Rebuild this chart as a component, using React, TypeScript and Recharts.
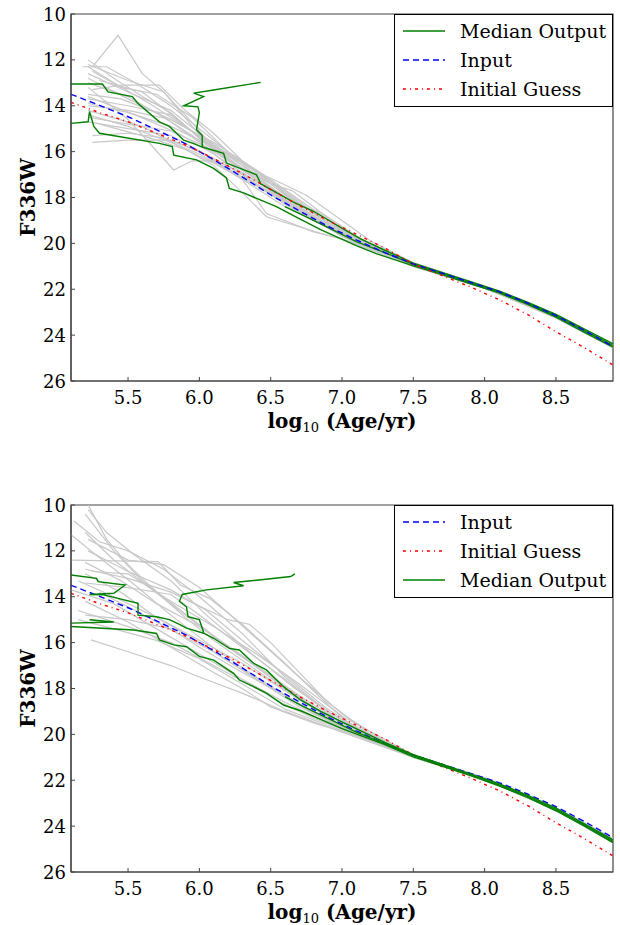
import React from 'react';
import { LineChart, Line, XAxis, YAxis, Legend, ReferenceArea } from 'recharts';

// axis ticks
const X_TICKS = [5.5, 6.0, 6.5, 7.0, 7.5, 8.0, 8.5];
const Y_TICKS = [10, 12, 14, 16, 18, 20, 22, 24, 26];

// shared curves (x = log10 age, y = F336W)
const inputCurve = [
  [5.1, 13.5], [5.3, 13.98], [5.5, 14.48], [5.7, 15.05], [5.9, 15.65], [6.1, 16.35], [6.3, 17.1],
  [6.5, 17.89], [6.7, 18.58], [6.9, 19.25], [7.1, 19.85], [7.3, 20.4], [7.5, 20.9], [7.7, 21.3],
  [7.9, 21.7], [8.1, 22.1], [8.3, 22.6], [8.5, 23.15], [8.7, 23.8], [8.9, 24.5],
];
const guessCurve = [
  [5.1, 13.85], [5.3, 14.3], [5.5, 14.7], [5.7, 15.2], [5.9, 15.7], [6.1, 16.3], [6.3, 16.95],
  [6.5, 17.65], [6.7, 18.35], [6.9, 19.0], [7.1, 19.6], [7.3, 20.2], [7.5, 20.9], [7.7, 21.4],
  [7.9, 21.9], [8.1, 22.45], [8.3, 23.1], [8.5, 23.85], [8.7, 24.55], [8.9, 25.3],
];

// top panel: individual runs
const topGrey = [
  [[5.25, 12.3], [5.43, 10.93], [5.6, 12.6], [5.75, 13.4], [5.95, 14.9], [6.1, 15.9], [6.3, 16.8], [6.5, 17.6], [6.8, 18.8], [7.0, 19.5], [7.5, 20.9], [8.0, 21.9], [8.5, 23.1], [8.9, 24.4]],
  [[5.22, 12.0], [5.4, 12.8], [5.6, 13.6], [5.8, 14.3], [6.0, 15.4], [6.2, 16.3], [6.5, 17.7], [6.8, 18.9], [7.0, 19.5], [7.5, 20.9], [8.0, 21.9], [8.5, 23.2], [8.9, 24.5]],
  [[5.22, 12.2], [5.5, 12.9], [5.75, 13.4], [5.9, 14.4], [6.1, 15.8], [6.4, 17.2], [6.7, 18.6], [7.0, 19.6], [7.5, 20.95], [8.0, 21.92], [8.5, 23.15], [8.9, 24.45]],
  [[5.18, 12.3], [5.35, 12.3], [5.55, 13.0], [5.8, 14.0], [6.0, 15.0], [6.3, 16.5], [6.6, 18.2], [6.9, 19.3], [7.5, 20.95], [8.0, 21.9], [8.5, 23.2], [8.9, 24.5]],
  [[5.25, 12.5], [5.45, 13.2], [5.7, 13.5], [5.95, 14.5], [6.2, 16.0], [6.5, 17.3], [6.8, 18.7], [7.1, 19.8], [7.5, 20.9], [8.0, 21.88], [8.5, 23.12], [8.9, 24.4]],
  [[5.22, 13.2], [5.5, 14.6], [5.82, 16.8], [5.95, 16.4], [6.1, 16.4], [6.3, 17.1], [6.6, 18.1], [6.9, 19.3], [7.5, 20.95], [8.0, 21.9], [8.5, 23.2], [8.9, 24.5]],
  [[5.25, 15.6], [5.5, 15.5], [5.8, 15.5], [6.0, 16.0], [6.3, 17.0], [6.6, 18.3], [7.0, 19.6], [7.5, 20.95], [8.0, 21.92], [8.5, 23.2], [8.9, 24.5]],
  [[5.25, 15.3], [5.5, 15.2], [5.75, 15.4], [6.0, 16.0], [6.3, 17.2], [6.6, 18.4], [7.0, 19.6], [7.5, 20.95], [8.0, 21.9], [8.5, 23.18], [8.9, 24.5]],
  [[5.22, 14.4], [5.5, 14.9], [5.8, 15.6], [6.0, 16.1], [6.3, 17.2], [6.47, 18.7], [6.8, 19.5], [7.0, 19.8], [7.5, 21.0], [8.0, 21.95], [8.5, 23.2], [8.9, 24.5]],
  [[5.22, 13.9], [5.5, 14.3], [5.8, 14.9], [6.0, 15.5], [6.25, 16.2], [6.4, 16.9], [6.55, 17.3], [6.75, 17.9], [7.0, 19.0], [7.2, 19.9], [7.5, 20.85], [8.0, 21.88], [8.5, 23.15], [8.9, 24.45]],
  [[5.22, 13.5], [5.45, 13.7], [5.7, 14.3], [5.95, 15.3], [6.2, 16.6], [6.5, 17.8], [6.8, 18.9], [7.0, 19.55], [7.5, 20.95], [8.0, 21.9], [8.5, 23.15], [8.9, 24.45]],
  [[5.25, 13.3], [5.45, 13.1], [5.72, 13.1], [5.9, 14.2], [6.1, 15.2], [6.3, 16.4], [6.6, 17.9], [7.0, 19.5], [7.5, 20.9], [8.0, 21.9], [8.5, 23.15], [8.9, 24.45]],
  [[5.22, 14.0], [5.5, 14.2], [5.8, 14.6], [6.0, 15.3], [6.2, 16.1], [6.45, 17.0], [6.7, 18.1], [7.0, 19.4], [7.5, 20.9], [8.0, 21.9], [8.5, 23.15], [8.9, 24.5]],
  [[5.22, 14.7], [5.5, 15.0], [5.8, 15.3], [6.1, 16.3], [6.4, 17.3], [6.7, 18.5], [7.0, 19.7], [7.5, 20.95], [8.0, 21.95], [8.5, 23.25], [8.9, 24.55]],
  [[5.22, 13.7], [5.5, 14.0], [5.8, 14.4], [6.05, 15.6], [6.3, 16.5], [6.6, 17.7], [6.9, 19.1], [7.5, 20.92], [8.0, 21.9], [8.5, 23.2], [8.9, 24.5]],
  [[5.22, 12.6], [5.5, 13.4], [5.8, 14.2], [6.0, 15.2], [6.3, 16.6], [6.6, 18.0], [7.0, 19.6], [7.5, 20.95], [8.0, 21.9], [8.5, 23.2], [8.9, 24.5]],
  [[5.3, 12.9], [5.6, 13.4], [5.85, 14.6], [6.05, 15.7], [6.35, 16.9], [6.5, 17.4], [6.65, 17.7], [6.8, 18.4], [7.0, 19.4], [7.5, 20.9], [8.0, 21.9], [8.5, 23.15], [8.9, 24.45]],
  [[5.22, 14.2], [5.6, 14.9], [5.9, 15.9], [6.1, 16.6], [6.33, 17.96], [6.47, 18.84], [6.85, 19.56], [7.1, 20.0], [7.5, 20.95], [8.0, 21.9], [8.5, 23.2], [8.9, 24.5]],
  [[5.22, 13.0], [5.5, 13.6], [5.8, 14.7], [6.0, 15.6], [6.3, 16.8], [6.6, 18.1], [6.9, 19.2], [7.5, 20.95], [8.0, 21.9], [8.5, 23.2], [8.9, 24.5]],
  [[5.3, 14.8], [5.6, 15.3], [5.9, 15.9], [6.1, 16.5], [6.4, 17.5], [6.7, 18.6], [7.0, 19.7], [7.5, 21.0], [8.0, 21.95], [8.5, 23.25], [8.9, 24.55]],
  [[5.22, 13.6], [5.55, 14.4], [5.85, 15.2], [6.1, 16.1], [6.4, 17.3], [6.7, 18.5], [7.0, 19.55], [7.5, 20.92], [8.0, 21.9], [8.5, 23.2], [8.9, 24.5]],
  [[5.22, 12.3], [5.4, 13.0], [5.65, 13.9], [5.9, 14.9], [6.15, 16.0], [6.45, 17.2], [6.75, 18.5], [7.0, 19.45], [7.5, 20.9], [8.0, 21.9], [8.5, 23.15], [8.9, 24.45]],
  [[5.22, 12.8], [5.5, 13.7], [5.8, 14.6], [6.1, 15.6], [6.4, 16.8], [6.71, 18.37], [6.85, 18.65], [7.17, 19.96], [7.5, 20.85], [8.0, 21.85], [8.5, 23.1], [8.9, 24.4]],
  [[5.22, 14.5], [5.5, 14.8], [5.8, 15.1], [6.05, 15.8], [6.35, 16.9], [6.65, 18.2], [7.0, 19.6], [7.5, 20.95], [8.0, 21.92], [8.5, 23.2], [8.9, 24.5]],
];

// top panel: median output contours
const topGreenUpper = [
  [5.1, 13.05], [5.32, 13.05], [5.36, 13.4], [5.53, 13.6], [5.57, 13.9], [5.72, 14.7], [5.79, 14.9], [5.89, 15.5],
  [5.96, 15.65], [6.02, 15.8], [6.17, 16.07], [6.19, 16.5], [6.4, 17.0], [6.43, 17.4], [6.66, 18.2], [6.8, 18.6],
  [6.99, 19.3], [7.13, 19.8], [7.3, 20.3], [7.5, 20.86], [7.7, 21.27], [7.9, 21.67], [8.1, 22.07], [8.3, 22.56],
  [8.5, 23.1], [8.7, 23.74], [8.9, 24.38],
];
const topGreenLower = [
  [5.1, 14.77], [5.22, 14.7], [5.23, 14.25], [5.26, 14.9], [5.3, 15.2], [5.72, 15.64], [5.81, 15.78], [5.82, 16.15],
  [5.98, 16.36], [6.1, 16.73], [6.19, 17.15], [6.21, 17.6], [6.31, 17.8], [6.54, 18.4], [6.71, 18.95], [6.85, 19.4],
  [7.1, 20.1], [7.24, 20.45], [7.5, 20.98], [7.7, 21.36], [7.9, 21.76], [8.1, 22.16], [8.3, 22.66], [8.5, 23.22],
  [8.7, 23.88], [8.9, 24.52],
];
const topGreenMid = [
  [6.6, 18.4], [6.71, 18.72], [6.9, 19.3], [7.1, 19.92], [7.3, 20.4], [7.5, 20.92], [7.7, 21.32], [7.9, 21.72],
  [8.1, 22.12], [8.3, 22.61], [8.5, 23.16], [8.7, 23.81], [8.9, 24.45],
];
const topGreenBranch = [
  [6.43, 12.98], [6.11, 13.3], [5.96, 13.45], [6.03, 13.6], [5.89, 14.0], [5.99, 14.05], [6.0, 14.3], [5.98, 15.05],
  [6.02, 15.3], [6.02, 15.8],
];

// bottom panel: individual runs
const botGrey = [
  [[5.22, 10.0], [5.35, 11.5], [5.5, 12.6], [5.7, 13.8], [5.9, 14.9], [6.1, 15.9], [6.4, 17.2], [6.7, 18.5], [7.0, 19.6], [7.5, 20.95], [8.0, 21.95], [8.5, 23.3], [8.9, 24.7]],
  [[5.2, 10.4], [5.4, 12.0], [5.6, 13.3], [5.85, 14.5], [6.1, 15.7], [6.4, 17.0], [6.7, 18.3], [7.0, 19.5], [7.5, 20.9], [8.0, 21.9], [8.5, 23.25], [8.9, 24.6]],
  [[5.1, 11.3], [5.3, 12.3], [5.55, 13.5], [5.8, 14.8], [6.05, 16.0], [6.35, 17.3], [6.7, 18.7], [7.0, 19.7], [7.5, 21.0], [8.0, 21.95], [8.5, 23.3], [8.9, 24.7]],
  [[5.12, 10.7], [5.3, 11.6], [5.5, 12.0], [5.75, 12.8], [6.0, 14.0], [6.3, 15.6], [6.6, 17.5], [6.9, 19.0], [7.2, 20.1], [7.5, 20.95], [8.0, 21.92], [8.5, 23.25], [8.9, 24.65]],
  [[5.1, 12.4], [5.71, 12.47], [5.87, 13.5], [6.07, 14.07], [6.3, 15.2], [6.6, 16.9], [6.9, 18.7], [7.1, 19.8], [7.5, 20.95], [8.0, 21.9], [8.5, 23.25], [8.9, 24.6]],
  [[5.2, 12.8], [5.5, 13.2], [5.8, 13.8], [6.0, 14.4], [6.2, 15.0], [6.35, 15.2], [6.5, 16.0], [6.7, 17.3], [6.9, 18.6], [7.2, 20.0], [7.5, 20.9], [8.0, 21.88], [8.5, 23.2], [8.9, 24.55]],
  [[5.24, 15.88], [5.5, 16.4], [5.8, 17.0], [6.0, 17.5], [6.3, 18.2], [6.6, 19.0], [7.0, 19.9], [7.5, 21.0], [8.0, 21.95], [8.5, 23.3], [8.9, 24.7]],
  [[5.15, 14.6], [5.5, 15.3], [5.8, 16.0], [6.1, 17.0], [6.4, 18.0], [6.6, 18.7], [6.8, 19.3], [7.1, 20.0], [7.5, 20.98], [8.0, 21.95], [8.5, 23.3], [8.9, 24.7]],
  [[5.2, 14.2], [5.5, 15.1], [5.8, 16.2], [6.1, 17.3], [6.3, 18.0], [6.5, 18.8], [6.8, 19.5], [7.1, 20.05], [7.5, 20.98], [8.0, 21.95], [8.5, 23.3], [8.9, 24.68]],
  [[5.2, 13.0], [5.45, 13.8], [5.7, 14.9], [5.95, 15.8], [6.2, 16.8], [6.5, 17.9], [6.8, 19.1], [7.1, 19.95], [7.5, 20.95], [8.0, 21.93], [8.5, 23.28], [8.9, 24.65]],
  [[5.2, 12.5], [5.45, 13.3], [5.7, 14.3], [6.0, 15.3], [6.3, 16.6], [6.6, 18.0], [6.9, 19.2], [7.5, 20.95], [8.0, 21.92], [8.5, 23.25], [8.9, 24.62]],
  [[5.2, 11.2], [5.4, 12.4], [5.65, 13.6], [5.9, 14.8], [6.2, 16.2], [6.5, 17.5], [6.8, 18.8], [7.1, 19.85], [7.5, 20.95], [8.0, 21.92], [8.5, 23.25], [8.9, 24.6]],
  [[5.15, 13.3], [5.4, 14.0], [5.7, 14.9], [6.0, 15.9], [6.3, 16.9], [6.6, 18.1], [6.9, 19.2], [7.5, 20.95], [8.0, 21.92], [8.5, 23.27], [8.9, 24.65]],
  [[5.2, 14.8], [5.5, 15.0], [5.8, 15.4], [6.0, 16.2], [6.3, 17.3], [6.6, 18.3], [6.9, 19.4], [7.5, 20.98], [8.0, 21.95], [8.5, 23.3], [8.9, 24.7]],
  [[5.22, 12.0], [5.5, 12.9], [5.8, 13.7], [6.05, 14.6], [6.3, 15.9], [6.6, 17.4], [6.9, 18.9], [7.2, 20.05], [7.5, 20.92], [8.0, 21.9], [8.5, 23.22], [8.9, 24.55]],
  [[5.1, 13.7], [5.4, 14.3], [5.7, 15.4], [6.0, 16.5], [6.3, 17.6], [6.6, 18.6], [6.9, 19.5], [7.5, 20.98], [8.0, 21.95], [8.5, 23.3], [8.9, 24.72]],
  [[5.25, 12.9], [5.5, 13.0], [5.8, 14.2], [6.1, 15.3], [6.4, 16.5], [6.7, 17.8], [7.0, 19.2], [7.5, 20.9], [8.0, 21.9], [8.5, 23.2], [8.9, 24.55]],
  [[5.3, 13.8], [5.55, 14.6], [5.85, 15.6], [6.1, 16.4], [6.4, 17.6], [6.7, 18.8], [7.0, 19.7], [7.5, 20.96], [8.0, 21.93], [8.5, 23.28], [8.9, 24.66]],
  [[5.22, 11.5], [5.5, 12.4], [5.75, 12.6], [6.0, 13.6], [6.2, 14.7], [6.45, 16.1], [6.7, 17.5], [7.0, 19.1], [7.3, 20.3], [7.5, 20.9], [8.0, 21.9], [8.5, 23.22], [8.9, 24.58]],
  [[5.15, 15.0], [5.4, 15.4], [5.7, 15.9], [6.0, 16.7], [6.3, 17.8], [6.6, 18.9], [6.9, 19.6], [7.5, 20.98], [8.0, 21.95], [8.5, 23.32], [8.9, 24.72]],
  [[5.2, 13.4], [5.5, 13.6], [5.8, 13.9], [6.0, 14.8], [6.3, 16.2], [6.6, 17.6], [6.95, 19.3], [7.5, 20.95], [8.0, 21.92], [8.5, 23.25], [8.9, 24.6]],
  [[5.22, 10.2], [5.35, 11.2], [5.55, 12.2], [5.8, 13.3], [6.05, 14.8], [6.35, 16.4], [6.65, 17.9], [6.95, 19.2], [7.5, 20.93], [8.0, 21.9], [8.5, 23.22], [8.9, 24.55]],
];

// bottom panel: median output contours
const botGreenUpper = [
  [5.1, 13.05], [5.28, 13.2], [5.29, 13.34], [5.48, 13.49], [5.4, 13.85], [5.23, 13.9], [5.33, 13.92], [5.57, 14.29],
  [5.57, 14.8], [5.7, 14.87], [5.79, 15.0], [5.86, 15.2], [5.91, 15.37], [6.03, 15.59], [6.1, 15.81], [6.21, 16.25],
  [6.28, 16.32], [6.38, 16.9], [6.47, 17.19], [6.59, 17.92], [6.71, 18.5], [6.85, 19.0], [7.0, 19.45], [7.15, 19.9],
  [7.3, 20.35], [7.5, 20.88], [7.7, 21.3], [7.9, 21.72], [8.1, 22.15], [8.3, 22.65], [8.5, 23.22], [8.7, 23.9], [8.9, 24.6],
];
const botGreenLower = [
  [5.1, 15.3], [5.54, 15.45], [5.7, 15.6], [5.72, 15.88], [5.82, 16.1], [5.91, 16.18], [6.0, 16.6], [6.1, 16.76],
  [6.24, 17.34], [6.28, 17.63], [6.38, 17.92], [6.47, 18.2], [6.59, 18.72], [6.71, 18.97], [6.85, 19.35], [7.0, 19.75],
  [7.15, 20.1], [7.3, 20.45], [7.5, 20.98], [7.7, 21.38], [7.9, 21.8], [8.1, 22.24], [8.3, 22.75], [8.5, 23.33],
  [8.7, 24.0], [8.9, 24.72],
];
const botGreenMid = [
  [6.6, 18.35], [6.71, 18.72], [6.9, 19.3], [7.1, 19.9], [7.3, 20.4], [7.5, 20.93], [7.7, 21.34], [7.9, 21.76],
  [8.1, 22.2], [8.3, 22.7], [8.5, 23.28], [8.7, 23.95], [8.9, 24.66],
];
const botGreenHook = [[5.1, 15.15], [5.4, 15.1], [5.23, 15.0]];
const botGreenBranch = [
  [6.67, 13.0], [6.64, 13.12], [6.45, 13.25], [6.24, 13.38], [6.31, 13.52], [6.05, 13.7], [5.88, 13.9], [5.86, 14.2],
  [5.91, 14.45], [5.92, 14.87], [6.0, 15.0], [6.03, 15.55],
];

const FONT = '"DejaVu Serif", serif';
const GREEN = '#008000';
const BLUE = '#0000ff';
const RED = '#ff0000';
const GREY = '#c8c8c8';
const AXIS = '#444444';

const pts = (arr: number[][]) => arr.map(([x, y]) => ({ x, y }));

type LegendKey = 'median' | 'input' | 'guess';

const LEGEND_ITEMS: Record<LegendKey, { label: string; color: string; dash?: string }> = {
  median: { label: 'Median Output', color: GREEN },
  input: { label: 'Input', color: BLUE, dash: '6 4' },
  guess: { label: 'Initial Guess', color: RED, dash: '3 4 1 4' },
};

const LegendBox = ({ order }: { order: LegendKey[] }) => (
  <div
    style={{
      width: 219,
      height: 93,
      boxSizing: 'border-box',
      border: '1px solid #000',
      background: '#fff',
      position: 'relative',
      fontFamily: FONT,
    }}
  >
    {order.map((k, i) => {
      const it = LEGEND_ITEMS[k];
      return (
        <div key={k} style={{ position: 'absolute', left: 0, top: 3 + i * 29, height: 26, width: '100%' }}>
          <svg width={60} height={26} style={{ position: 'absolute', left: 0, top: 0 }}>
            <line x1={8} x2={50} y1={13} y2={13} stroke={it.color} strokeWidth={1.4} strokeDasharray={it.dash} />
          </svg>
          <span style={{ position: 'absolute', left: 65, top: 0, fontSize: 19, lineHeight: '26px', color: '#000', whiteSpace: 'nowrap' }}>
            {it.label}
          </span>
        </div>
      );
    })}
  </div>
);

const XTick = (props: any) => {
  const { x, y, payload } = props;
  return (
    <text x={x} y={y} dy={13} textAnchor="middle" fontFamily={FONT} fontSize={18} fill="#000">
      {Number(payload.value).toFixed(1)}
    </text>
  );
};

const YTick = (props: any) => {
  const { x, y, payload } = props;
  return (
    <text x={x} y={y} dy={6.5} textAnchor="end" fontFamily={FONT} fontSize={18} fill="#000">
      {payload.value}
    </text>
  );
};

const XLabel = (props: any) => {
  const vb = props.viewBox || { x: 71, y: 381, width: 542 };
  return (
    <text x={vb.x + vb.width / 2} y={vb.y + 47} textAnchor="middle" fontFamily={FONT} fontSize={20} fontWeight="bold" fill="#000">
      log
      <tspan fontSize={13} fontWeight="normal" dy={4}>10</tspan>
      <tspan dy={-4}> (Age/yr)</tspan>
    </text>
  );
};

const YLabel = (props: any) => {
  const vb = props.viewBox || { x: 0, y: 14, width: 71, height: 367 };
  const cx = 35;
  const cy = vb.y + vb.height / 2;
  return (
    <text x={cx} y={cy} transform={`rotate(-90, ${cx}, ${cy})`} textAnchor="middle" fontFamily={FONT} fontSize={20} fontWeight="bold" fill="#000">
      F336W
    </text>
  );
};

type PanelProps = {
  height: number;
  marginTop: number;
  marginBottom: number;
  xAxisHeight: number;
  grey: number[][][];
  green: number[][][];
  greenOnTop: boolean;
  legendOrder: LegendKey[];
};

const axisLine = { stroke: AXIS, strokeWidth: 1.2 };
const tickLine = { stroke: AXIS, strokeWidth: 1 };

const Panel = ({ height, marginTop, marginBottom, xAxisHeight, grey, green, greenOnTop, legendOrder }: PanelProps) => {
  const greenLines = green.map((g, i) => (
    <Line key={`g${i}`} data={pts(g)} dataKey="y" type="linear" stroke={GREEN} strokeWidth={1.4} dot={false} activeDot={false} isAnimationActive={false} />
  ));
  return (
    <LineChart width={620} height={height} margin={{ top: marginTop, right: 7, bottom: marginBottom, left: 0 }}>
      <XAxis
        dataKey="x"
        type="number"
        domain={[5.1, 8.9]}
        allowDataOverflow
        ticks={X_TICKS}
        height={xAxisHeight}
        tickSize={-4}
        tickMargin={14}
        axisLine={axisLine}
        tickLine={tickLine}
        tick={XTick}
        label={XLabel}
      />
      <XAxis
        xAxisId="top"
        orientation="top"
        dataKey="x"
        type="number"
        domain={[5.1, 8.9]}
        allowDataOverflow
        ticks={X_TICKS}
        height={0}
        tickSize={-4}
        axisLine={axisLine}
        tickLine={tickLine}
        tick={false}
      />
      <YAxis
        type="number"
        domain={[10, 26]}
        reversed
        allowDataOverflow
        ticks={Y_TICKS}
        width={71}
        tickSize={-4}
        tickMargin={9}
        axisLine={axisLine}
        tickLine={tickLine}
        tick={YTick}
        label={YLabel}
      />
      <YAxis
        yAxisId="right"
        orientation="right"
        type="number"
        domain={[10, 26]}
        reversed
        allowDataOverflow
        ticks={Y_TICKS}
        width={0}
        tickSize={-4}
        axisLine={axisLine}
        tickLine={tickLine}
        tick={false}
      />
      {grey.map((g, i) => (
        <Line key={`r${i}`} data={pts(g)} dataKey="y" type="linear" stroke={GREY} strokeWidth={1.2} dot={false} activeDot={false} isAnimationActive={false} />
      ))}
      {!greenOnTop && greenLines}
      <Line data={pts(inputCurve)} dataKey="y" type="linear" stroke={BLUE} strokeWidth={1.4} strokeDasharray="6 4" dot={false} activeDot={false} isAnimationActive={false} />
      <Line data={pts(guessCurve)} dataKey="y" type="linear" stroke={RED} strokeWidth={1.4} strokeDasharray="3 4 1 4" dot={false} activeDot={false} isAnimationActive={false} />
      {greenOnTop && greenLines}
      {/* plot frame */}
      <ReferenceArea x1={5.1} x2={8.9} y1={10} y2={26} fill="none" fillOpacity={0} stroke={AXIS} strokeWidth={1.2} ifOverflow="visible" />
      <Legend
        layout="vertical"
        align="center"
        verticalAlign="middle"
        wrapperStyle={{ position: 'absolute', top: marginTop, left: 394, width: 219, height: 93 }}
        content={() => <LegendBox order={legendOrder} />}
      />
    </LineChart>
  );
};

export default function App() {
  return (
    <div style={{ position: 'absolute', left: 0, top: 0, width: 620, height: 925, background: '#fff' }}>
      <Panel
        height={462}
        marginTop={14}
        marginBottom={21}
        xAxisHeight={60}
        grey={topGrey}
        green={[topGreenUpper, topGreenLower, topGreenMid, topGreenBranch]}
        greenOnTop={false}
        legendOrder={['median', 'input', 'guess']}
      />
      <Panel
        height={463}
        marginTop={43}
        marginBottom={0}
        xAxisHeight={53}
        grey={botGrey}
        green={[botGreenUpper, botGreenLower, botGreenMid, botGreenHook, botGreenBranch]}
        greenOnTop={true}
        legendOrder={['input', 'guess', 'median']}
      />
    </div>
  );
}
